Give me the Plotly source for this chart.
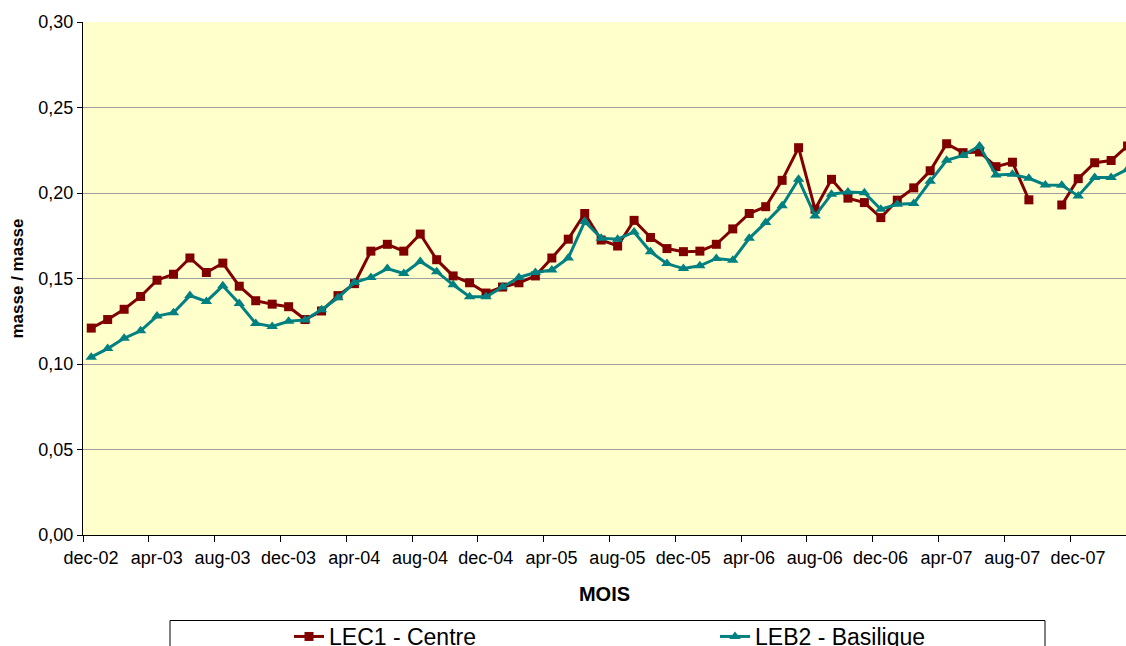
import plotly.graph_objects as go

# month categories, dec-02 ... mar-08 (index 0..63)
month_names = ["jan", "feb", "mar", "apr", "may", "jun", "jul", "aug", "sep", "oct", "nov", "dec"]
months = ["dec-02"] + [f"{month_names[m]}-{y:02d}" for y in range(3, 9) for m in range(12)]
months = months[:64]
x_idx = list(range(len(months)))

lec1_centre = [
    0.121, 0.126, 0.132, 0.1395, 0.149, 0.1525, 0.162, 0.1535, 0.159, 0.1455,
    0.137, 0.135, 0.1335, 0.126, 0.131, 0.140, 0.147, 0.166, 0.170, 0.166,
    0.176, 0.161, 0.1515, 0.1475, 0.1415, 0.145, 0.1475, 0.1515, 0.162, 0.173,
    0.188, 0.1725, 0.169, 0.184, 0.174, 0.1675, 0.1657, 0.166, 0.170, 0.179,
    0.188, 0.192, 0.2074, 0.2265, 0.1905, 0.208, 0.197, 0.1944, 0.1856, 0.1958,
    0.203, 0.213, 0.2288, 0.2236, 0.224, 0.2154, 0.218, 0.196, None, 0.193,
    0.2084, 0.2177, 0.219, 0.2275,
]
leb2_basilique = [
    0.104, 0.109, 0.115, 0.1194, 0.128, 0.130, 0.140, 0.1366, 0.1457, 0.1354,
    0.1237, 0.122, 0.125, 0.1258, 0.1317, 0.1387, 0.1476, 0.1506, 0.1558, 0.1529,
    0.160, 0.154, 0.1463, 0.1393, 0.1393, 0.1451, 0.1506, 0.1535, 0.155, 0.162,
    0.1833, 0.1736, 0.173, 0.1772, 0.1656, 0.1587, 0.1558, 0.1574, 0.1617, 0.1607,
    0.1735, 0.1827, 0.1925, 0.208, 0.1866, 0.1993, 0.2006, 0.2002, 0.1905, 0.1934,
    0.1938, 0.2068, 0.2191, 0.222, 0.2275, 0.2105, 0.2109, 0.2086, 0.2047, 0.2045,
    0.1983, 0.209, 0.209, 0.2139,
]

tick_labels = ["dec-02", "apr-03", "aug-03", "dec-03", "apr-04", "aug-04", "dec-04", "apr-05",
               "aug-05", "dec-05", "apr-06", "aug-06", "dec-06", "apr-07", "aug-07", "dec-07"]
tick_positions = [months.index(t) - 0.5 for t in tick_labels]
y_ticks = [0.00, 0.05, 0.10, 0.15, 0.20, 0.25, 0.30]

FONT = "Arial, Liberation Sans, sans-serif"
RED = "#800000"
TEAL = "#008080"

W, H = 1126, 646
ML, MR, MT, MB = 83, 0, 22, 111
PW = W - ML - MR
PH = H - MT - MB


def px_x(p):
    return (p - ML) / PW


def px_y(p):
    return (H - MB - p) / PH


fig = go.Figure()
fig.add_trace(go.Scatter(
    x=x_idx, y=lec1_centre, name="LEC1 - Centre", mode="lines+markers",
    line=dict(color=RED, width=3),
    marker=dict(symbol="square", size=9, color=RED),
    connectgaps=False,
))
fig.add_trace(go.Scatter(
    x=x_idx, y=leb2_basilique, name="LEB2 - Basilique", mode="lines+markers",
    line=dict(color=TEAL, width=3),
    marker=dict(symbol="triangle-up", size=10, color=TEAL),
))

px_per_month = 16.45
x_end = -0.5 + PW / px_per_month

fig.update_layout(
    width=W, height=H,
    margin=dict(l=ML, r=MR, t=MT, b=MB, autoexpand=False),
    paper_bgcolor="white",
    plot_bgcolor="#FFFFCC",
    separators=", ",
    font=dict(family=FONT, color="black", size=18),
    xaxis=dict(
        range=[-0.5, x_end],
        tickmode="array", tickvals=tick_positions, ticktext=tick_labels,
        ticklabelshift=8,
        ticks="outside", ticklen=6, tickcolor="black", tickwidth=1,
        showline=True, linecolor="black", linewidth=1,
        showgrid=False, zeroline=False,
        tickfont=dict(size=18, family=FONT),
        title=dict(text="<b>MOIS</b>", font=dict(size=20, family=FONT), standoff=20),
    ),
    yaxis=dict(
        range=[0, 0.30],
        tickmode="array", tickvals=y_ticks, tickformat=".2f",
        ticks="outside", ticklen=5, tickcolor="black", tickwidth=1,
        showline=True, linecolor="black", linewidth=1,
        showgrid=True, gridcolor="#A0A0A0", gridwidth=1,
        zeroline=False,
        tickfont=dict(size=18, family=FONT),
        title=dict(text="<b>masse / masse</b>", font=dict(size=17, family=FONT), standoff=10),
    ),
    showlegend=True,
    legend=dict(
        orientation="h",
        x=px_x(289), xanchor="left",
        y=px_y(615), yanchor="top",
        bgcolor="rgba(0,0,0,0)", borderwidth=0,
        font=dict(size=23, family=FONT, color="black"),
        entrywidth=381, entrywidthmode="pixels",
    ),
    shapes=[dict(
        type="rect", xref="paper", yref="paper",
        x0=px_x(170), x1=px_x(1045), y0=px_y(620.5), y1=px_y(700),
        line=dict(color="black", width=1), fillcolor="white", layer="below",
    )],
)

fig.write_html(
    "out.html",
    config={"displayModeBar": False},
    post_script="document.body.style.margin='0';document.body.style.padding='0';",
)
